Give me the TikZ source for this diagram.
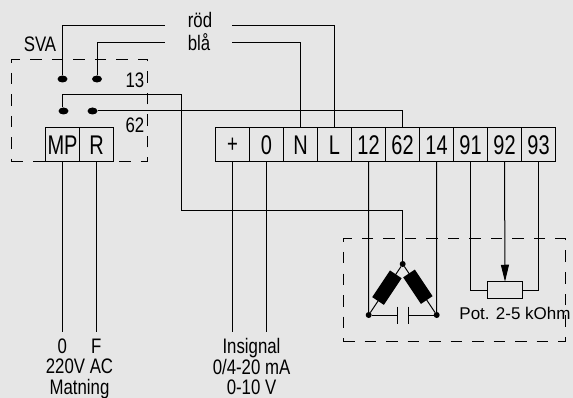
\documentclass[tikz,border=0pt]{standalone}
\usepackage{fontspec}
\setmainfont{Liberation Sans}[FakeStretch=0.8]
\newfontfamily\termfont{Liberation Sans}[FakeStretch=0.74]
\newfontfamily\potfont{Liberation Sans}
\usetikzlibrary{arrows.meta, positioning, shapes}
\definecolor{panel}{HTML}{E6E6E6}

\begin{document}
\begin{tikzpicture}[
        x=1pt, y=-1pt,
        line width=1pt,
        base/.style = {draw, outer sep=0pt, inner sep=0pt},
        term/.style = {base, minimum width=34pt, minimum height=34pt,
                       font=\termfont\fontsize{27}{27}\selectfont},
        dashbox/.style = {draw, dash pattern=on 11.5pt off 10pt, outer sep=0pt},
        contact/.style = {ellipse, fill, minimum width=10pt, minimum height=7pt,
                          inner sep=0pt, outer sep=0pt},
        joint/.style = {circle, fill, minimum size=6pt, inner sep=0pt, outer sep=0pt},
        coil/.style = {fill, minimum width=32pt, minimum height=14pt,
                       inner sep=0pt, sloped},
        txt/.style = {inner sep=0pt, align=center,
                      font=\fontsize{21}{20.5}\selectfont},
        ]
        \useasboundingbox [fill=panel] (0,0) rectangle (573,398);

        % dashed boxes
        \node [dashbox, minimum width=136pt, minimum height=102pt] (sva) at (79.5,111) {};
        \node [dashbox, minimum width=222pt, minimum height=102pt] (sensor) at (454,290) {};

        % contacts
        \node [contact] (cA) at (62.5,79) {};
        \node [contact] (cB) at (97,79) {};
        \node [contact] (cC) at (63.5,111) {};
        \node [contact] (cD) at (92.5,111) {};

        % relay terminals
        \node [term] (tMP) at (62.5,145) {MP};
        \node [term,right=0pt of tMP] (tR) {R};

        % terminal strip
        \node [term] (tPlus) at (232.5,145) {\fontsize{25}{25}\selectfont +};
        \node [term,right=0pt of tPlus] (tZero) {0};
        \node [term,right=0pt of tZero] (tN) {N};
        \node [term,right=0pt of tN] (tL) {L};
        \node [term,right=0pt of tL] (t12) {12};
        \node [term,right=0pt of t12] (t62) {62};
        \node [term,right=0pt of t62] (t14) {14};
        \node [term,right=0pt of t14] (t91) {91};
        \node [term,right=0pt of t91] (t92) {92};
        \node [term,right=0pt of t92] (t93) {93};

        % labels
        \node [txt] (svaLabel) at (40,44.5) {SVA};
        \node [txt] (rod) at (200,20) {röd};
        \node [txt] (bla) at (199,42.5) {blå};
        \node [txt] (n13) at (135,80) {13};
        \node [txt] (n62) at (135,125) {62};
        \node [txt, anchor=north] (matn) at (79.5,338) {0\hspace{24pt}F\\220V AC\\Matning};
        \node [txt, anchor=north] (insig) at (251.5,338) {Insignal\\0/4-20 mA\\0-10 V};

        % sensor
        \node [joint] (triTop) at (402.7,264) {};
        \node [joint] (triL) at (368.7,315) {};
        \node [joint] (triR) at (436.7,315) {};
        \node [draw, outer sep=0pt, minimum width=35pt, minimum height=16.5pt,
               inner sep=0pt] (pot) at (505,290) {};
        \node [inner sep=0pt, font=\potfont\fontsize{17}{17}\selectfont] (potLabel)
            at (515,313) {Pot. 2-5 kOhm};

        \coordinate (rodW) at (165,26);
        \coordinate (rodE) at (232,26);
        \coordinate (blaW) at (165,43);
        \coordinate (blaE) at (232,43);
        \coordinate (bendA) at (181.5,94.5);
        \coordinate (bendB) at (402.7,211);
        \coordinate (endMP) at (62.5,332);
        \coordinate (endR) at (96.5,332);
        \coordinate (endPlus) at (232.5,332);
        \coordinate (endZero) at (266.5,332);
        \coordinate (capA) at (397.7,315);
        \coordinate (capB) at (408.7,315);

        \draw (cA) |- (rodW);
        \draw (cB) |- (blaW);
        \draw (rodE) -| (tL.north);
        \draw (blaE) -| (tN.north);
        \draw (cC.north -| cA) |- (bendA) |- (bendB) -- (triTop);
        \draw (cD) -| (t62.north);
        \draw (tMP.south) -- (endMP);
        \draw (tR.south) -- (endR);
        \draw (tPlus.south) -- (endPlus);
        \draw (tZero.south) -- (endZero);
        \draw (t12.south) -- (triL);
        \draw (t14.south) -- (triR);
        \draw (t91.south) |- (pot.west);
        \draw (t93.south) |- (pot.east);
        \draw [-{Triangle[length=17pt, width=8pt]}] (t92.south) -- (pot.north);

        \draw (triTop) -- node[coil, pos=0.46] (coilL) {} (triL);
        \draw (triTop) -- node[coil, pos=0.44] (coilR) {} (triR);
        \draw (triL) -- (capA) ++(0,-8.5) -- ++(0,17);
        \draw (triR) -- (capB) ++(0,-8.5) -- ++(0,17);
    \end{tikzpicture}
\end{document}
